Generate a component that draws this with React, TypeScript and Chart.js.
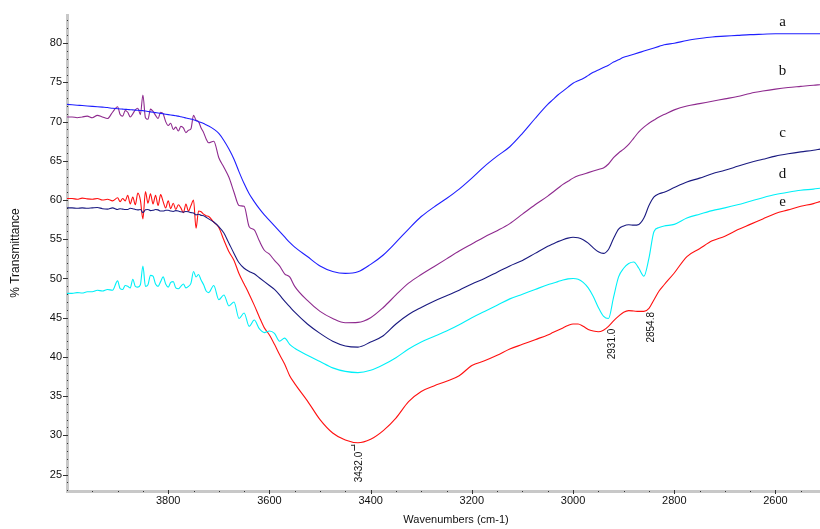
import React, { useEffect, useRef } from 'react';
import { Chart, registerables } from 'chart.js';

Chart.register(...registerables);

// ---------- data ----------
const wavenumbers = [
  4000, 3990, 3980, 3970, 3960, 3950, 3940, 3930, 3920, 3910,
  3900, 3895, 3890, 3885, 3880, 3875, 3870, 3865, 3860, 3855,
  3850, 3845, 3840, 3835, 3830, 3825, 3820, 3815, 3810, 3805,
  3800, 3795, 3790, 3785, 3780, 3775, 3770, 3765, 3760, 3755,
  3750, 3745, 3740, 3735, 3730, 3725, 3720, 3710,
  3700, 3690, 3680, 3670, 3660, 3650, 3640, 3630, 3620, 3610,
  3600, 3590, 3580, 3570, 3560, 3550,
  3525, 3500, 3475, 3450, 3425, 3400, 3375, 3350, 3325, 3300,
  3275, 3250, 3225, 3200, 3175, 3150, 3125, 3100, 3075, 3050,
  3040, 3030, 3020, 3010, 3000, 2990, 2980, 2970, 2960, 2950,
  2940, 2930, 2920, 2910, 2900, 2890, 2880, 2870, 2860, 2850,
  2840, 2830, 2820,
  2800, 2775, 2750, 2725, 2700, 2675, 2650, 2625, 2600, 2575, 2550, 2525, 2512,
];

const seriesA = [
  72.2, 72.15, 72.1, 72.05, 72.0, 71.95, 71.9, 71.85, 71.8, 71.7,
  71.65, 71.62, 71.6, 71.57, 71.55, 71.52, 71.5, 71.47, 71.45, 71.42,
  71.4, 71.35, 71.3, 71.25, 71.2, 71.15, 71.1, 71.05, 71.0, 70.95,
  70.9, 70.85, 70.8, 70.75, 70.7, 70.62, 70.55, 70.47, 70.4, 70.32,
  70.25, 70.12, 70.0, 69.88, 69.75, 69.6, 69.45, 69.05,
  68.5, 67.6, 66.5, 65.2, 63.6, 62.1, 60.8, 59.8, 58.9, 58.1,
  57.4, 56.7, 56.0, 55.3, 54.6, 54.0,
  52.8, 51.6, 50.9, 50.65, 50.85, 51.8, 53.0, 54.6, 56.3, 57.9,
  59.1, 60.2, 61.4, 62.8, 64.3, 65.6, 66.8, 68.5, 70.4, 72.2,
  72.8, 73.4, 73.9, 74.4, 74.9, 75.2, 75.5, 75.9, 76.3, 76.6,
  76.9, 77.2, 77.6, 77.9, 78.2, 78.4, 78.6, 78.8, 79.0, 79.2,
  79.4, 79.6, 79.8,
  80.0, 80.35, 80.6, 80.8, 80.9, 81.0, 81.1, 81.15, 81.2, 81.2, 81.2, 81.2, 81.2,
];

const seriesB = [
  70.6, 70.6, 70.5, 70.6, 70.7, 70.5, 70.8, 70.6, 70.4, 71.2,
  71.9, 70.9, 70.7, 71.4, 71.2, 70.6, 71.0, 71.5, 71.7, 70.9,
  73.4, 70.5, 70.3, 71.6, 71.3, 70.8, 70.4, 71.2, 71.0, 70.0,
  69.5, 69.8, 69.0, 69.3, 68.8, 69.4, 69.2, 68.6, 68.9, 69.1,
  70.8, 70.2, 70.0, 69.2, 68.6, 67.8, 67.3, 67.5,
  65.4, 64.2, 62.9, 61.0, 59.3, 59.2, 56.6, 56.2, 54.8, 53.6,
  53.1, 52.3, 51.6, 50.6, 50.2, 49.0,
  47.2, 45.8, 44.9, 44.35, 44.4, 45.0, 46.3, 47.9, 49.4, 50.5,
  51.5, 52.5, 53.5, 54.4, 55.3, 56.1, 57.0, 58.2, 59.4, 60.5,
  61.0, 61.5, 62.0, 62.4, 62.8, 63.1, 63.3, 63.5, 63.7, 63.9,
  64.1, 64.6, 65.4, 66.0, 66.5, 67.1, 67.9, 68.7, 69.3, 69.8,
  70.2, 70.6, 70.9,
  71.5, 72.0, 72.3, 72.6, 72.9, 73.2, 73.6, 73.9, 74.15, 74.35, 74.5, 74.65, 74.7,
];

const seriesC = [
  59.0, 59.0, 58.95, 59.0, 58.95, 59.0, 59.05, 58.9, 58.85, 59.0,
  58.8, 58.9, 58.85, 58.8, 58.8, 58.95, 58.9, 58.8, 58.75, 58.8,
  58.4, 58.75, 58.8, 58.65, 58.7, 58.8, 58.75, 58.6, 58.6, 58.7,
  58.7, 58.6, 58.55, 58.65, 58.6, 58.5, 58.45, 58.55, 58.5, 58.4,
  58.35, 58.1, 58.2, 58.05, 58.0, 57.8, 57.6, 57.2,
  56.6, 55.8, 54.5, 53.2, 52.0, 51.3, 50.9, 50.6, 50.1, 49.6,
  49.1, 48.6, 47.9, 47.1, 46.4, 45.7,
  44.2, 43.0, 42.0, 41.4, 41.25, 41.9, 42.7, 44.2, 45.4, 46.3,
  47.1, 47.8, 48.5, 49.3, 50.0, 50.8, 51.6, 52.3, 53.2, 54.1,
  54.4, 54.7, 54.95, 55.15, 55.25, 55.2, 54.95, 54.5, 53.9, 53.4,
  53.2, 53.7, 55.1, 56.3, 56.7, 56.85, 56.8, 56.9, 57.7, 59.3,
  60.4, 60.8, 61.0,
  61.6, 62.3, 62.8, 63.35, 63.8, 64.3, 64.8, 65.2, 65.6, 65.9, 66.15, 66.35, 66.5,
];

const seriesD = [
  48.1, 48.1, 48.2, 48.15, 48.3, 48.3, 48.5, 48.4, 48.6, 48.5,
  49.7, 48.7, 48.6, 49.1, 49.0, 48.8, 49.9, 49.0, 48.9, 49.2,
  51.6, 49.0, 49.2, 50.4, 50.3, 49.3, 49.0, 49.6, 50.2, 49.3,
  48.9, 49.5, 49.6, 48.8, 48.7, 49.0, 49.3, 48.8, 49.0, 49.4,
  50.9, 50.2, 50.5, 49.8, 49.2, 48.4, 48.2, 49.1,
  47.3, 47.9, 46.5, 47.0, 44.9, 45.6, 43.9, 44.7, 43.6, 43.1,
  43.3, 43.0, 42.0, 42.4, 41.6, 41.1,
  40.2, 39.4, 38.6, 38.15, 38.0, 38.3, 39.0, 39.9, 41.0, 41.9,
  42.6, 43.3, 44.1, 45.0, 45.8, 46.6, 47.4, 48.0, 48.6, 49.2,
  49.4, 49.6, 49.8, 49.95, 50.0, 49.9, 49.5, 48.8, 47.7, 46.3,
  45.2, 44.9, 47.6, 50.2, 51.3, 51.9, 52.1, 51.3, 50.3, 52.6,
  56.0, 56.5, 56.7,
  56.9, 57.7, 58.2, 58.65, 59.0, 59.4, 59.85, 60.3, 60.7, 61.0, 61.25, 61.4, 61.5,
];

const seriesE = [
  60.2, 60.2, 60.1, 60.25, 60.15, 60.1, 60.2, 60.0, 60.1, 59.9,
  60.3, 59.8, 60.2, 59.9, 60.6, 59.5, 60.4, 59.4, 60.9, 60.0,
  57.6, 61.1, 59.6, 60.8, 59.5, 60.6, 59.3, 60.7, 59.8, 59.0,
  59.9, 58.9, 59.6, 58.8, 59.4, 59.0, 58.4, 59.5, 58.6, 59.3,
  60.0, 56.4, 58.6, 58.5, 58.2, 58.0, 57.9, 57.2,
  56.5, 54.9, 53.4, 52.3, 50.6, 49.3, 48.0, 46.6, 45.1, 43.7,
  42.8, 41.6, 40.3, 39.1, 37.6, 36.6,
  34.4, 32.0, 30.3, 29.4, 29.05, 29.5, 30.6, 32.2, 34.3, 35.6,
  36.3, 36.9, 37.6, 38.9, 39.5, 40.2, 41.0, 41.6, 42.2, 42.8,
  43.1, 43.4, 43.7, 44.0, 44.2, 44.2, 43.9, 43.5, 43.3, 43.2,
  43.4, 43.9, 44.6, 45.2, 45.7, 45.9, 45.85, 45.8, 45.8, 46.2,
  47.3, 48.4, 49.2,
  50.7, 52.8, 53.8, 54.8, 55.4, 56.2, 56.9, 57.6, 58.3, 58.75, 59.2, 59.55, 59.8,
];

const seriesNames = ['a', 'b', 'c', 'd', 'e'];
const seriesColors = ['#1f1fff', '#8e2a8e', '#1a1a80', '#00f0f8', '#ff1010'];
const seriesValues = [seriesA, seriesB, seriesC, seriesD, seriesE];

const curveLabelX = 2586;
const curveLabelY = [82.7, 76.4, 68.5, 63.3, 59.8];

const peakPositions = [3432.0, 2931.0, 2854.8];
const peakTransmittance = [29.05, 43.85, 45.85];
const peakTexts = ['3432.0', '2931.0', '2854.8'];

const xMajorTicks = [3800, 3600, 3400, 3200, 3000, 2800, 2600];
const yMajorTicks = [25, 30, 35, 40, 45, 50, 55, 60, 65, 70, 75, 80];

const xAllTicks: number[] = [];
for (let v = 3950; v >= 2550; v -= 50) xAllTicks.push(v);
const yAllTicks: number[] = [];
for (let v = 23; v <= 83; v += 1) yAllTicks.push(v);

const X_MIN = 2512;
const X_MAX = 4000;
const Y_MIN = 22.9;
const Y_MAX = 83.6;

const SANS = '"Liberation Sans", Arial, sans-serif';

const decorPlugin = {
  id: 'decor',
  afterDraw(chart: any) {
    const { ctx, chartArea, scales } = chart;
    const xs = scales.x;
    const ys = scales.y;
    ctx.save();
    // tick dots / dashes on the axes
    ctx.fillStyle = '#333';
    xs.ticks.forEach((t: any) => {
      const px = Math.round(xs.getPixelForValue(t.value));
      if (xMajorTicks.includes(t.value)) ctx.fillRect(px, chartArea.bottom - 1, 1, 4);
      else ctx.fillRect(px, chartArea.bottom, 1, 1);
    });
    ys.ticks.forEach((t: any) => {
      const py = Math.round(ys.getPixelForValue(t.value));
      if (yMajorTicks.includes(t.value)) ctx.fillRect(chartArea.left - 4, py, 5, 1);
      else ctx.fillRect(chartArea.left, py, 1, 1);
    });

    // peak annotations
    const gaps = [9, 2, 1];
    peakPositions.forEach((w, i) => {
      const px = xs.getPixelForValue(w);
      const py = ys.getPixelForValue(peakTransmittance[i]);
      if (i === 0) {
        ctx.strokeStyle = '#333';
        ctx.lineWidth = 1;
        ctx.beginPath();
        ctx.moveTo(Math.round(px) + 0.5, py + 2);
        ctx.lineTo(Math.round(px) + 0.5, py + 8);
        ctx.moveTo(Math.round(px) - 3, py + 2.5);
        ctx.lineTo(Math.round(px) + 1, py + 2.5);
        ctx.stroke();
      }
      ctx.save();
      ctx.translate(px + 4.5, py + gaps[i]);
      ctx.rotate(-Math.PI / 2);
      ctx.font = `10px ${SANS}`;
      ctx.fillStyle = '#111';
      ctx.textAlign = 'right';
      ctx.textBaseline = 'middle';
      ctx.fillText(peakTexts[i], 0, 0);
      ctx.restore();
    });

    // curve letters
    ctx.font = '15px "Liberation Serif", "Times New Roman", serif';
    ctx.fillStyle = '#111';
    ctx.textAlign = 'center';
    ctx.textBaseline = 'middle';
    seriesNames.forEach((n, i) => {
      ctx.fillText(n, xs.getPixelForValue(curveLabelX), ys.getPixelForValue(curveLabelY[i]));
    });

    // x axis title
    ctx.font = `11px ${SANS}`;
    ctx.fillStyle = '#111';
    ctx.textAlign = 'center';
    ctx.textBaseline = 'middle';
    ctx.fillText('Wavenumbers (cm-1)', 456, 520);
    ctx.restore();
  },
};

export default function App() {
  const canvasRef = useRef<HTMLCanvasElement | null>(null);

  useEffect(() => {
    document.body.style.margin = '0';
    const canvas = canvasRef.current;
    if (!canvas) return;
    const chart = new Chart(canvas, {
      type: 'line',
      data: {
        datasets: seriesValues.map((vals, i) => ({
          label: seriesNames[i],
          data: wavenumbers.map((w, j) => ({ x: w, y: vals[j] })),
          borderColor: seriesColors[i],
          backgroundColor: seriesColors[i],
          borderWidth: 1.1,
          pointRadius: 0,
          fill: false,
          cubicInterpolationMode: 'monotone' as const,
        })),
      },
      options: {
        animation: false,
        responsive: false,
        devicePixelRatio: 1,
        layout: { padding: { top: 15, right: 0, left: 0, bottom: 0 } },
        plugins: {
          legend: { display: false },
          tooltip: { enabled: false },
        },
        scales: {
          x: {
            type: 'linear',
            reverse: true,
            min: X_MIN,
            max: X_MAX,
            afterBuildTicks: (s: any) => {
              s.ticks = xAllTicks.map((v) => ({ value: v }));
            },
            afterFit: (s: any) => {
              s.height = 38;
            },
            border: { display: true, color: '#c8c8c8', width: 3 },
            grid: { display: true, drawOnChartArea: false, drawTicks: false },
            ticks: {
              autoSkip: false,
              maxRotation: 0,
              minRotation: 0,
              padding: 3,
              color: '#111',
              font: { family: SANS, size: 11 },
              callback: (v: any) => (xMajorTicks.includes(Number(v)) ? String(v) : ''),
            },
          },
          y: {
            type: 'linear',
            min: Y_MIN,
            max: Y_MAX,
            afterBuildTicks: (s: any) => {
              s.ticks = yAllTicks.map((v) => ({ value: v }));
            },
            afterFit: (s: any) => {
              s.width = 67;
            },
            border: { display: true, color: '#c8c8c8', width: 3 },
            grid: { display: true, drawOnChartArea: false, drawTicks: false },
            title: {
              display: true,
              text: '% Transmittance',
              color: '#111',
              font: { family: SANS, size: 12 },
              padding: { top: 8, bottom: 0 },
            },
            ticks: {
              autoSkip: false,
              padding: 5,
              color: '#111',
              font: { family: SANS, size: 11 },
              callback: (v: any) => (yMajorTicks.includes(Number(v)) ? String(v) : ''),
            },
          },
        },
      },
      plugins: [decorPlugin],
    } as any);
    return () => chart.destroy();
  }, []);

  return (
    <div style={{ width: 820, height: 529, position: 'relative', background: '#fff' }}>
      <canvas ref={canvasRef} width={820} height={529} />
    </div>
  );
}
